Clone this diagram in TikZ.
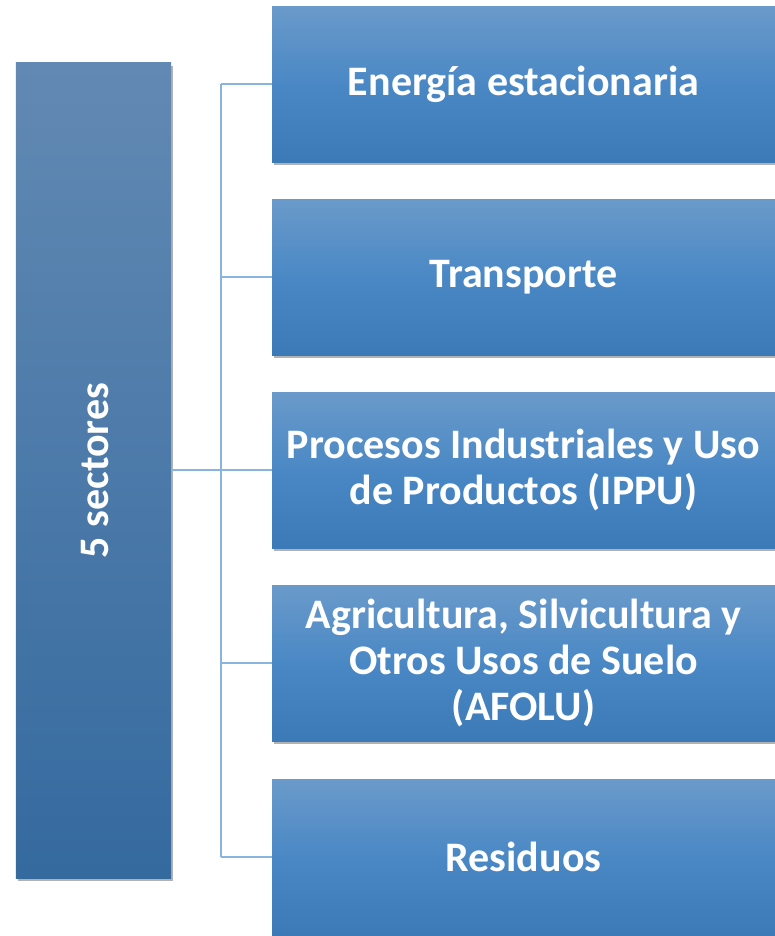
\documentclass[tikz,border=0pt]{standalone}
\usepackage{fontspec}
\setmainfont{Carlito}
\usetikzlibrary{shadows}
\definecolor{ltop}{HTML}{6289B3}
\definecolor{lbot}{HTML}{356A9F}
\definecolor{rtop}{HTML}{6A9ACA}
\definecolor{rmid}{HTML}{4A88C5}
\definecolor{rbot}{HTML}{3B79B7}
\definecolor{conn}{HTML}{8AB4E0}
\begin{document}
\begin{tikzpicture}[x=1bp,y=-1bp,
  sectorbox/.style={rectangle, inner sep=0pt, minimum width=503bp, minimum height=156bp,
    top color=rtop, bottom color=rbot, middle color=rmid,
    drop shadow={shadow xshift=2bp, shadow yshift=-3bp, opacity=0.3, fill=black},
    text=white, font=\fontsize{42bp}{46bp}\selectfont\bfseries, align=center},
  mainbox/.style={rectangle, inner sep=0pt, minimum width=155bp, minimum height=815bp,
    top color=ltop, bottom color=lbot,
    drop shadow={shadow xshift=2bp, shadow yshift=-3bp, opacity=0.3, fill=black}},
  link/.style={draw=conn, line width=2.2bp}]
\useasboundingbox (0,0) rectangle (775,936);
\node[mainbox] (m) at (93.5,470.5) {};
\node[rotate=90, text=white, font=\fontsize{42bp}{46bp}\selectfont\bfseries] (mt) at (95,470.5) {5 sectores};
\coordinate (j) at (221,470);
\coordinate (jt) at (221,84);
\coordinate (jb) at (221,857);
\draw[link] (m.east |- j) -- (j);
\draw[link] (jt) -- (jb);
\node[sectorbox] (s1) at (523.5,84) {Energía estacionaria};
\node[sectorbox] (s2) at (523.5,277) {Transporte};
\node[sectorbox] (s3) at (523.5,470) {Procesos Industriales y Uso\\de Productos (IPPU)};
\node[sectorbox] (s4) at (523.5,663) {Agricultura, Silvicultura y\\Otros Usos de Suelo\\(AFOLU)};
\node[sectorbox] (s5) at (523.5,857) {Residuos};
\foreach \n in {s1,s2,s3,s4,s5}
  \draw[link] (jt |- \n.west) -- (\n.west);
\end{tikzpicture}
\end{document}
